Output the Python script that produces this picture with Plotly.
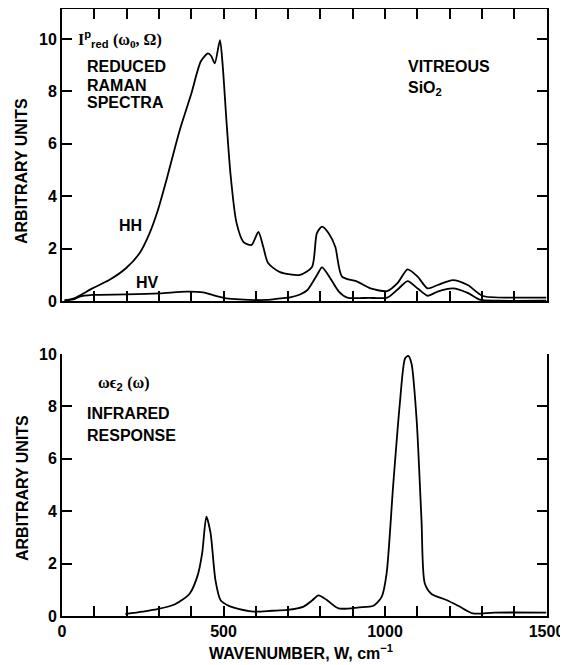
import plotly.graph_objects as go

# ---------------- data ----------------
hh_x = [8, 37, 94, 146, 198, 240, 271, 297, 323, 364, 400, 430, 452, 462, 473, 489, 497, 509,
        522, 540, 562, 587, 608, 623, 638, 675, 737, 774, 789, 805, 826, 846, 867, 914, 955,
        1007, 1040, 1070, 1101, 1132, 1163, 1210, 1256, 1303, 1400, 1500]
hh_y = [0.02, 0.1, 0.48, 0.8, 1.25, 1.82, 2.58, 3.47, 4.6, 6.5, 7.9, 9.15, 9.45, 9.35, 9.07,
        9.96, 9.07, 6.9, 4.8, 3.0, 2.25, 2.14, 2.64, 2.07, 1.45, 1.1, 1.0, 1.3, 2.58, 2.84,
        2.58, 2.07, 0.93, 0.74, 0.48, 0.38, 0.7, 1.21, 0.93, 0.48, 0.61, 0.8, 0.61, 0.19, 0.13,
        0.13]

hv_x = [8, 35, 53, 94, 198, 302, 385, 437, 461, 485, 509, 550, 634, 675, 706, 737, 760, 790,
        805, 831, 857, 883, 950, 1007, 1040, 1070, 1101, 1132, 1163, 1210, 1256, 1293, 1350, 1500]
hv_y = [0.02, 0.06, 0.16, 0.23, 0.25, 0.29, 0.36, 0.33, 0.25, 0.17, 0.1, 0.06, 0.04, 0.1, 0.14,
        0.25, 0.42, 1.0, 1.28, 0.86, 0.36, 0.13, 0.12, 0.13, 0.45, 0.76, 0.48, 0.2, 0.36, 0.48,
        0.31, 0.05, 0.01, 0.01]

ir_x = [196, 250, 295, 350, 395, 420, 434, 447, 460, 475, 491, 511, 532, 593, 650, 697, 748,
        775, 794, 820, 856, 920, 964, 990, 1005, 1025, 1046, 1062, 1072, 1082, 1098, 1113, 1123,
        1144, 1190, 1231, 1272, 1338, 1500]
ir_y = [0.08, 0.17, 0.26, 0.45, 0.85, 1.55, 2.4, 3.79, 3.16, 1.37, 0.6, 0.42, 0.32, 0.17, 0.2,
        0.23, 0.36, 0.6, 0.79, 0.61, 0.29, 0.33, 0.39, 0.74, 1.63, 4.94, 8.12, 9.83, 9.93, 9.64,
        7.48, 3.66, 1.25, 0.84, 0.61, 0.36, 0.1, 0.13, 0.13]

x_tick_vals = list(range(0, 1501, 100))
x_tick_text = ["0" if v == 0 else (str(v) if v % 500 == 0 else "") for v in x_tick_vals]
y_tick_vals = [0, 2, 4, 6, 8, 10]

# ---------------- figure ----------------
# the page body has an 8px margin, so the figure is 8px smaller and all
# reference pixel positions are shifted by -8
OFF = 8
W, H = 568 - OFF, 665 - OFF
FONT = "Liberation Sans, Arial, Helvetica, sans-serif"


def px(x):
    return (x - OFF) / W


def py(y):
    return 1 - (y - OFF) / H


line = dict(color="black", width=1.8, shape="spline", smoothing=0.7)

fig = go.Figure()
fig.add_trace(go.Scatter(x=hh_x, y=hh_y, mode="lines", line=line, xaxis="x", yaxis="y",
                         showlegend=False, hoverinfo="skip"))
fig.add_trace(go.Scatter(x=hv_x, y=hv_y, mode="lines", line=line, xaxis="x", yaxis="y",
                         showlegend=False, hoverinfo="skip"))
fig.add_trace(go.Scatter(x=ir_x, y=ir_y, mode="lines", line=line, xaxis="x2", yaxis="y2",
                         showlegend=False, hoverinfo="skip"))

axis_common = dict(showgrid=False, zeroline=False, showline=True, linecolor="black",
                   linewidth=2, ticks="inside", ticklen=10, tickwidth=1.5, tickcolor="black",
                   automargin=False,
                   tickfont=dict(size=16, family=FONT, color="black", weight="bold"))

xdom = [px(62), px(546.5)]
top_px = OFF + 1  # top frame of the upper panel
top_range = (301 - top_px) / 26.2

fig.update_layout(
    width=W, height=H,
    margin=dict(l=0, r=0, t=0, b=0),
    paper_bgcolor="white", plot_bgcolor="white",
    font=dict(family=FONT, size=16, color="black", weight="bold"),
    xaxis=dict(domain=xdom, range=[0, 1500], anchor="y", tickvals=x_tick_vals,
               showticklabels=False, mirror="ticks", **axis_common),
    yaxis=dict(domain=[py(301), py(top_px)], range=[0, top_range], anchor="x",
               tickvals=y_tick_vals, mirror="ticks", **axis_common),
    xaxis2=dict(domain=xdom, range=[0, 1500], anchor="y2", tickvals=x_tick_vals,
                ticktext=x_tick_text, mirror=False, **axis_common),
    yaxis2=dict(domain=[py(616), py(354)], range=[0, 10], anchor="x2", tickvals=y_tick_vals,
                mirror="ticks", **axis_common),
)


def ann(text, x, y, xanchor="left", size=16, angle=0, family=FONT):
    fig.add_annotation(text=text, x=px(x), y=py(y), xref="paper", yref="paper",
                       xanchor=xanchor, yanchor="middle", showarrow=False, textangle=angle,
                       font=dict(size=size, family=family, color="black", weight="bold"))


ann("ARBITRARY UNITS", 22, 171, xanchor="center", angle=-90)
ann("ARBITRARY UNITS", 22, 488, xanchor="center", angle=-90)
ann("WAVENUMBER, W, cm<sup>−1</sup>", 301, 652, xanchor="center")

ann("<span style='font-family:Liberation Serif'>I</span><sup>p</sup><sub>red</sub>"
    " <span style='font-family:Liberation Serif'>(ω<sub>0</sub>, Ω)</span>", 76, 39)
ann("REDUCED", 85, 67)
ann("RAMAN", 85, 85)
ann("SPECTRA", 85, 103)
ann("VITREOUS", 406, 66)
ann("SiO<sub>2</sub>", 406, 88)
ann("HH", 130, 225, xanchor="center")
ann("HV", 147, 283, xanchor="center")

ann("<span style='font-family:Liberation Serif'>ωϵ</span><sub>2</sub>"
    " <span style='font-family:Liberation Serif'>(ω)</span>", 96, 383)
ann("INFRARED", 85, 413)
ann("RESPONSE", 85, 435)

fig.write_html("out.html")
